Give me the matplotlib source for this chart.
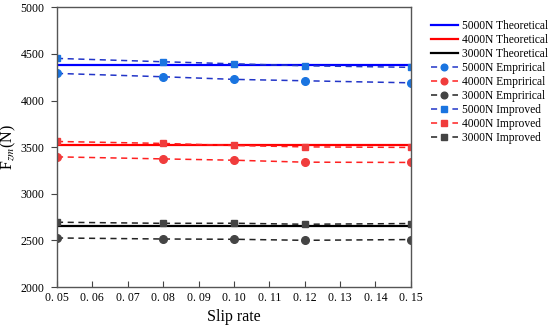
import matplotlib
matplotlib.use('Agg')
import matplotlib.pyplot as plt

slip = [0.05, 0.08, 0.10, 0.12, 0.15]

theo_5000 = [4380, 4380, 4380, 4380, 4380]
theo_4000 = [3522, 3522, 3522, 3522, 3522]
theo_3000 = [2655, 2655, 2655, 2655, 2655]

emp_5000 = [4291, 4255, 4227, 4212, 4190]
emp_4000 = [3396, 3374, 3360, 3339, 3336]
emp_3000 = [2526, 2515, 2512, 2501, 2509]

imp_5000 = [4452, 4416, 4394, 4373, 4356]
imp_4000 = [3561, 3540, 3518, 3503, 3497]
imp_3000 = [2695, 2683, 2684, 2673, 2681]

xticks = [0.05, 0.06, 0.07, 0.08, 0.09, 0.10, 0.11, 0.12, 0.13, 0.14, 0.15]
xtick_labels = ['0. 05', '0. 06', '0. 07', '0. 08', '0. 09', '0. 10',
                '0. 11', '0. 12', '0. 13', '0. 14', '0. 15']
yticks = [2000, 2500, 3000, 3500, 4000, 4500, 5000]

plt.rcParams['font.family'] = ['Liberation Serif', 'DejaVu Serif']
plt.rcParams['mathtext.fontset'] = 'stix'


def main():
    fig = plt.figure(figsize=(5.5, 3.32), dpi=100)
    ax = fig.add_axes([0.1036, 0.1355, 0.6433, 0.8425])

    ax.plot(slip, theo_5000, color='#0000ff', lw=1.6, label='5000N Theoretical')
    ax.plot(slip, theo_4000, color='#ff0000', lw=1.6, label='4000N Theoretical')
    ax.plot(slip, theo_3000, color='#000000', lw=1.6, label='3000N Theoretical')

    kw = dict(ls=(0, (4, 3)), lw=1.1, markersize=5.5)
    ax.plot(slip, emp_5000, color='#2235c8', marker='o', mfc='#1a74e0', mec='#1a74e0',
            label='5000N Emprirical', **kw)
    ax.plot(slip, emp_4000, color='#ff2020', marker='o', mfc='#f03c3c', mec='#f03c3c',
            label='4000N Emprirical', **kw)
    ax.plot(slip, emp_3000, color='#222222', marker='o', mfc='#444444', mec='#444444',
            label='3000N Emprirical', **kw)
    kw['markersize'] = 5
    ax.plot(slip, imp_5000, color='#2235c8', marker='s', mfc='#1a74e0', mec='#1a74e0',
            label='5000N Improved', **kw)
    ax.plot(slip, imp_4000, color='#ff2020', marker='s', mfc='#f03c3c', mec='#f03c3c',
            label='4000N Improved', **kw)
    ax.plot(slip, imp_3000, color='#222222', marker='s', mfc='#444444', mec='#444444',
            label='3000N Improved', **kw)

    ax.set_xlim(0.05, 0.15)
    ax.set_ylim(2000, 5000)
    ax.set_xticks(xticks)
    ax.set_xticklabels(xtick_labels)
    ax.set_yticks(yticks)
    ax.tick_params(axis='x', direction='in', length=4, labelsize=8.5, color='#444444')
    ax.tick_params(axis='y', direction='out', length=4, labelsize=8.5, color='#444444', pad=5)
    for s in ax.spines.values():
        s.set_color('#555555')
        s.set_linewidth(1.0)

    ax.set_xlabel('Slip rate', fontsize=11.5)
    ax.set_ylabel('F$_{zm}$(N)', fontsize=11.5, labelpad=2)

    leg = ax.legend(loc='upper left', bbox_to_anchor=(0.784, 0.94), bbox_transform=fig.transFigure,
                    frameon=False, fontsize=8.3, handlelength=2.3, handletextpad=0.4,
                    labelspacing=0.17, borderaxespad=0, borderpad=0)
    for h in leg.legend_handles[3:]:
        h.set_markersize(4.8)

    fig.savefig('out.png', dpi=100)


if __name__ == '__main__':
    main()
